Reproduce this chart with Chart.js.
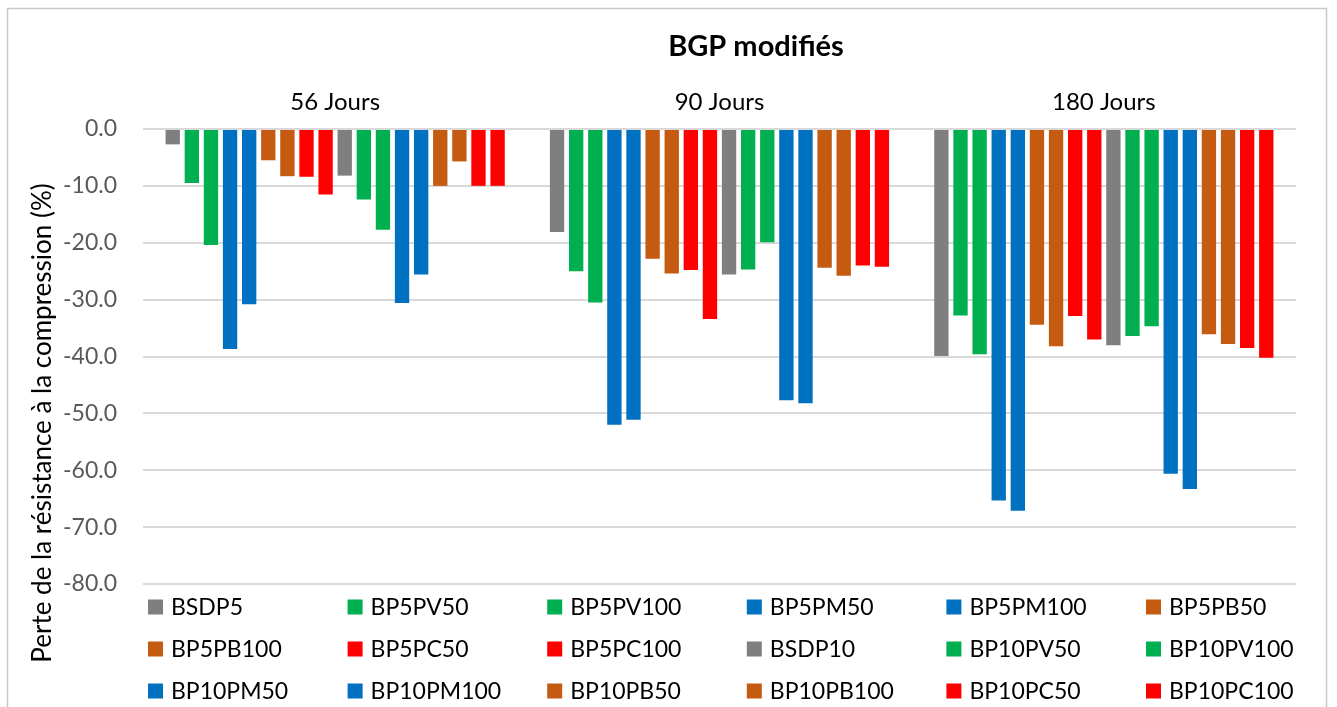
<!DOCTYPE html>
<html>
<head>
<meta charset="utf-8">
<script src="https://cdn.jsdelivr.net/npm/chart.js@4.4.1/dist/chart.umd.min.js"></script>
<style>
  html, body { margin: 0; padding: 0; background: #ffffff; }
  #wrap { width: 1337px; height: 707px; }
</style>
</head>
<body>
<div id="wrap"><canvas id="c" width="1337" height="707"></canvas></div>
<script>
// Curing ages shown along the top axis
const categories = ['56 Jours', '90 Jours', '180 Jours'];

// Mix designations, in legend order
const seriesNames = [
  'BSDP5', 'BP5PV50', 'BP5PV100', 'BP5PM50', 'BP5PM100', 'BP5PB50',
  'BP5PB100', 'BP5PC50', 'BP5PC100', 'BSDP10', 'BP10PV50', 'BP10PV100',
  'BP10PM50', 'BP10PM100', 'BP10PB50', 'BP10PB100', 'BP10PC50', 'BP10PC100'
];

// Loss of compressive strength (%) per mix, one array per age
const perte56 = [
  -2.7, -9.5, -20.4, -38.7, -30.8, -5.5,
  -8.3, -8.4, -11.5, -8.2, -12.4, -17.7,
  -30.6, -25.6, -10.0, -5.7, -10.0, -10.0
];
const perte90 = [
  -18.1, -25.0, -30.5, -52.0, -51.1, -22.8,
  -25.4, -24.8, -33.4, -25.6, -24.7, -19.9,
  -47.7, -48.2, -24.4, -25.8, -24.0, -24.2
];
const perte180 = [
  -39.9, -32.8, -39.6, -65.3, -67.1, -34.4,
  -38.2, -32.9, -37.0, -38.0, -36.4, -34.7,
  -60.6, -63.3, -36.1, -37.8, -38.5, -40.2
];

// Value axis range and step
const yMin = -80;
const yMax = 0;
const yStep = 10;

const chartTitle = 'BGP modifiés';
const yAxisTitle = 'Perte de la résistance à la compression (%)';

// Colour of each mix family
const GRAY = '#7F7F7F', GREEN = '#00B050', BLUE = '#0070C0', ORANGE = '#C55A11', RED = '#FF0000';
const seriesColors = [
  GRAY, GREEN, GREEN, BLUE, BLUE, ORANGE,
  ORANGE, RED, RED, GRAY, GREEN, GREEN,
  BLUE, BLUE, ORANGE, ORANGE, RED, RED
];

const FONT = 'Lato, "Open Sans", "Liberation Sans", sans-serif';

const datasets = seriesNames.map((name, i) => ({
  label: name,
  data: [perte56[i], perte90[i], perte180[i]],
  backgroundColor: seriesColors[i],
  borderWidth: 0,
  categoryPercentage: 0.895,
  barPercentage: 0.75
}));

// Frame, title, rotated axis title and a fixed-column legend
const decorations = {
  id: 'decorations',
  beforeDraw(chart) {
    const ctx = chart.ctx;
    ctx.save();
    ctx.fillStyle = '#ffffff';
    ctx.fillRect(0, 0, chart.width, chart.height);
    ctx.strokeStyle = '#C8C8C8';
    ctx.lineWidth = 1.5;
    ctx.strokeRect(7.5, 8.5, 1319, 720);
    ctx.restore();
  },
  afterDraw(chart) {
    const ctx = chart.ctx;
    ctx.save();

    // chart title
    ctx.fillStyle = '#000000';
    ctx.font = 'bold 29px ' + FONT;
    ctx.textAlign = 'center';
    ctx.textBaseline = 'alphabetic';
    ctx.fillText(chartTitle, 756, 56);

    // value axis title
    ctx.save();
    ctx.translate(43, 423);
    ctx.rotate(-Math.PI / 2);
    ctx.font = '26px ' + FONT;
    ctx.textAlign = 'center';
    ctx.textBaseline = 'middle';
    ctx.fillStyle = '#000000';
    ctx.fillText(yAxisTitle, 0, 0);
    ctx.restore();

    // legend: 6 columns x 3 rows
    const cols = 6, colW = 199.6, x0 = 148, rowY = [607, 649, 691], box = 15;
    ctx.font = '23px ' + FONT;
    ctx.textAlign = 'left';
    ctx.textBaseline = 'middle';
    chart.data.datasets.forEach((ds, i) => {
      const c = i % cols, r = Math.floor(i / cols);
      const x = x0 + c * colW, y = rowY[r];
      ctx.fillStyle = ds.backgroundColor;
      ctx.fillRect(x, y - box / 2, box, box);
      ctx.fillStyle = '#000000';
      ctx.fillText(ds.label, x + 23, y + 1);
    });
    ctx.restore();
  }
};

new Chart(document.getElementById('c'), {
  type: 'bar',
  data: { labels: categories, datasets },
  plugins: [decorations],
  options: {
    responsive: false,
    animation: false,
    devicePixelRatio: 1,
    layout: { padding: { left: 0, right: 41, top: 0, bottom: 123 } },
    plugins: {
      legend: { display: false },
      title: { display: false },
      tooltip: { enabled: false }
    },
    scales: {
      x: {
        position: 'top',
        grid: { display: false, drawTicks: false },
        border: { display: false },
        ticks: { font: { family: FONT, size: 24 }, color: '#000000', padding: 12 },
        afterFit(scale) { scale.height = 129; }
      },
      y: {
        min: yMin,
        max: yMax,
        ticks: {
          stepSize: yStep,
          callback: (v) => v.toFixed(1),
          font: { family: FONT, size: 23 },
          color: '#595959',
          padding: 26
        },
        grid: { color: '#D9D9D9', lineWidth: 2, drawTicks: false },
        border: { display: false },
        afterFit(scale) { scale.width = 143; }
      }
    }
  }
});
</script>
</body>
</html>
